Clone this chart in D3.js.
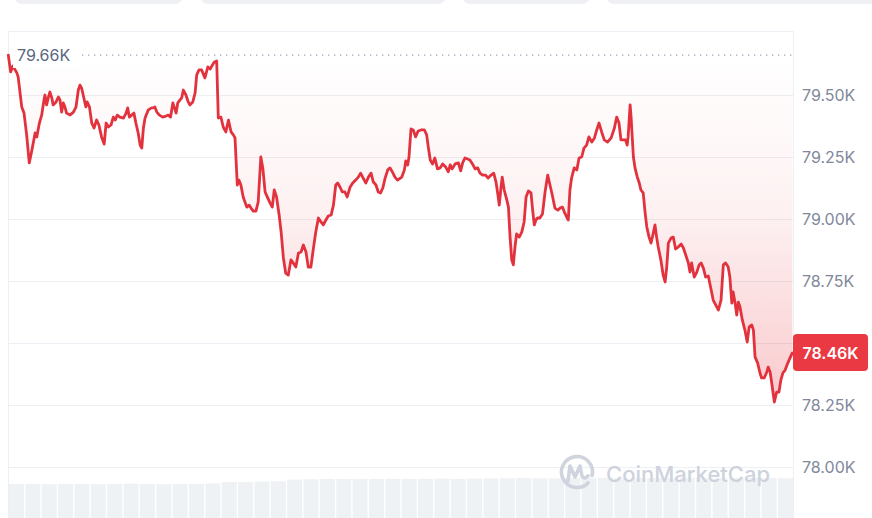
<!DOCTYPE html>
<html><head><meta charset="utf-8">
<script src="https://cdn.jsdelivr.net/npm/d3@7/dist/d3.min.js"></script>
<style>html,body{margin:0;padding:0;background:#fff;}svg{display:block;font-family:Inter,"Noto Sans",sans-serif;}</style>
</head><body><svg id="chart" width="872" height="518"></svg>
<script>
// time of day in hours (24h window)
const times = [
0.01,0.08,0.15,0.27,0.31,0.42,0.49,0.57,0.65,0.72,0.83,0.88,0.96,1.03,1.10,1.13,1.18,1.23,1.28,1.34,1.38,1.47,1.54,1.59,1.64,1.69,1.74,1.79,1.90,2.00,2.08,2.15,2.20,2.25,2.32,2.38,2.42,2.49,2.56,2.63,2.71,2.78,2.86,2.94,3.00,3.07,3.15,3.22,3.28,3.34,3.42,3.53,3.61,3.66,3.71,3.78,3.85,3.91,3.98,4.04,4.09,4.14,4.19,4.29,4.39,4.44,4.49,4.55,4.63,4.73,4.83,4.90,4.97,5.04,5.08,5.14,5.19,5.26,5.31,5.36,5.44,5.51,5.56,5.65,
5.72,5.77,5.84,5.92,6.02,6.11,6.18,6.25,6.31,6.38,6.43,6.51,6.58,6.66,6.74,6.82,6.89,6.94,7.01,7.06,7.12,7.19,7.30,7.37,7.43,7.50,7.58,7.65,7.73,7.79,7.86,7.94,8.01,8.08,8.14,8.21,8.29,8.35,8.42,8.49,8.57,8.65,8.72,8.80,8.88,8.96,9.03,9.11,9.18,9.26,9.33,9.41,9.49,9.57,9.64,9.72,9.79,9.88,9.95,10.02,10.08,10.15,10.22,10.30,10.37,10.46,10.54,10.63,10.71,10.78,10.86,10.94,11.02,11.10,11.17,11.25,11.32,11.39,11.46,11.53,11.61,11.68,11.75,11.83,11.91,
12.04,12.12,12.16,12.22,12.26,12.32,12.39,12.46,12.54,12.63,12.73,12.80,12.85,12.91,12.98,13.05,13.13,13.21,13.29,13.38,13.46,13.52,13.58,13.67,13.77,13.84,13.90,13.97,14.05,14.12,14.20,14.28,14.36,14.43,14.51,14.60,14.68,14.77,14.85,14.92,14.97,15.02,15.07,15.11,15.17,15.25,15.30,15.35,15.40,15.45,15.50,15.55,15.63,15.71,15.78,15.84,15.91,15.99,16.04,16.09,16.14,16.19,16.26,16.34,16.42,16.50,16.57,16.64,16.72,16.81,16.88,16.95,17.01,17.08,17.13,17.18,17.23,17.31,17.39,17.46,17.54,17.61,17.69,17.76,17.85,17.93,18.00,18.07,
18.15,18.23,18.33,18.44,18.54,18.61,18.68,18.74,18.82,18.88,18.93,18.96,19.02,19.05,19.09,19.12,19.17,19.24,19.30,19.35,19.42,19.48,19.53,19.60,19.66,19.73,19.78,19.83,19.88,19.96,20.03,20.09,20.14,20.19,20.27,20.34,20.41,20.49,20.58,20.65,20.72,20.80,20.85,20.90,20.98,21.06,21.13,21.19,21.26,21.33,21.41,21.48,21.56,21.64,21.72,21.80,21.87,21.94,22.02,22.07,22.13,22.17,22.23,22.28,22.33,22.38,22.45,22.53,22.60,22.66,22.74,22.79,22.84,22.92,22.99,23.04,23.12,23.20,23.24,23.30,23.35,23.43,23.50,23.57,23.63,23.69,23.76,23.84,23.91,23.98
];
// BTC price in USD
const prices = [
79661,79593,79617,79589,79573,79452,79427,79339,79226,79270,79347,79331,79387,79419,79480,79500,79460,79488,79512,79488,79460,79472,79492,79480,79431,79468,79452,79427,79419,79431,79452,79520,79540,79528,79488,79452,79472,79452,79387,79367,79399,79379,79331,79302,79387,79371,79379,79411,79399,79419,79411,79407,79427,79448,79411,79419,79427,79387,79347,79298,79286,79367,79407,79440,79448,79448,79452,79431,79419,79411,79415,79419,79411,79468,79452,79427,79468,79480,79488,79520,79500,79472,79460,79472,
79508,79581,79601,79601,79569,79613,79605,79621,79633,79637,79407,79411,79371,79351,79399,79351,79339,79327,79137,79157,79137,79089,79048,79056,79044,79032,79032,79069,79250,79206,79109,79085,79065,79048,79117,79089,79016,78948,78843,78782,78774,78835,78823,78806,78863,78867,78895,78867,78806,78806,78875,78948,79004,78988,78976,78996,79012,79016,79056,79137,79145,79129,79109,79109,79089,79129,79145,79157,79169,79185,79165,79145,79169,79185,79149,79137,79109,79105,79125,79165,79198,79206,79190,79169,79157,
79169,79198,79234,79218,79250,79363,79359,79331,79355,79359,79359,79339,79290,79238,79222,79246,79202,79206,79222,79210,79190,79218,79202,79222,79226,79194,79226,79246,79242,79238,79222,79202,79206,79185,79177,79177,79165,79177,79185,79149,79105,79056,79125,79169,79117,79077,79048,78927,78835,78815,78887,78940,78927,78948,78988,79089,79113,79105,79036,78976,78996,79004,79004,79020,79109,79177,79137,79097,79044,79036,79044,79048,79028,79008,78996,79117,79165,79206,79198,79246,79250,79286,79298,79331,79310,79327,79359,79387,
79351,79319,79310,79327,79367,79411,79387,79319,79319,79319,79298,79331,79460,79411,79319,79250,79206,79169,79145,79117,79105,79024,78968,78927,78903,78944,78976,78927,78887,78835,78774,78746,78806,78903,78923,78927,78879,78887,78899,78883,78855,78823,78786,78823,78766,78786,78815,78823,78802,78766,78770,78726,78673,78653,78633,78673,78815,78823,78806,78766,78661,78706,78661,78613,78665,78645,78593,78552,78504,78565,78573,78552,78444,78419,78379,78359,78359,78383,78403,78383,78339,78262,78302,78302,78351,78379,78391,78419,78440,78460
];
const openPrice = 79661;
const lastPrice = 78460;
const yTickValues = [78000, 78250, 78500, 78750, 79000, 79250, 79500];
// volume, billions USD, per half hour
const volumes = [27.0,27.1,26.9,27.0,27.1,26.9,27.0,27.2,27.0,26.9,27.0,27.1,27.3,28.0,28.1,28.2,28.4,29.2,29.4,29.5,29.5,29.6,29.5,29.6,29.5,29.6,29.7,29.6,29.7,29.8,29.9,30.0,29.9,29.8,30.0,30.0,30.1,29.9,30.0,30.0,29.9,30.1,30.0,29.9,30.0,30.1,30.0,29.9];

if (times.length !== prices.length) throw new Error("length mismatch " + times.length + " vs " + prices.length);

const data = times.map((t, i) => ({t, p: prices[i]}));
const svg = d3.select("#chart");
const L = 8, R = 793, TOP = 31;

const x = d3.scaleLinear().domain([0, 24]).range([L, R]);
const y = d3.scaleLinear().domain([78000, 79500]).range([467, 95]);
const fmt = v => d3.format(".2f")(v / 1000) + "K";

// top tab stubs
const tabs = [[14, 183], [200, 446], [462, 590], [606, 880]];
svg.selectAll("rect.tab").data(tabs).join("rect").attr("class", "tab")
  .attr("x", d => d[0]).attr("y", -20).attr("width", d => d[1] - d[0]).attr("height", 24)
  .attr("rx", 8).attr("fill", "#eef0f3");

// plot frame
svg.append("path").attr("d", `M${L + 0.5},518 V${TOP + 0.5} H${R + 0.5} V518`)
  .attr("fill", "none").attr("stroke", "#eceff3").attr("stroke-width", 1);

// gridlines
svg.append("g").selectAll("line").data(yTickValues).join("line")
  .attr("x1", L).attr("x2", R)
  .attr("y1", d => Math.round(y(d)) + 0.5).attr("y2", d => Math.round(y(d)) + 0.5)
  .attr("stroke", "#eceff3").attr("stroke-width", 1);

// volume bars
const xb = d3.scaleBand().domain(d3.range(volumes.length)).range([L + 1, R]).paddingInner(0.08);
const hv = d3.scaleLinear().domain([0, 30]).range([0, 60]);
svg.append("g").selectAll("rect").data(volumes).join("rect")
  .attr("x", (d, i) => xb(i)).attr("width", xb.bandwidth())
  .attr("y", d => 538 - hv(d)).attr("height", d => hv(d))
  .attr("fill", "#eff2f5");

// gradient fill between line and open price
const defs = svg.append("defs");
const grad = defs.append("linearGradient").attr("id", "g1")
  .attr("gradientUnits", "userSpaceOnUse")
  .attr("x1", 0).attr("x2", 0).attr("y1", y(openPrice)).attr("y2", y(78250));
grad.append("stop").attr("offset", "0%").attr("stop-color", "#ea3943").attr("stop-opacity", 0);
grad.append("stop").attr("offset", "45%").attr("stop-color", "#ea3943").attr("stop-opacity", 0.07);
grad.append("stop").attr("offset", "100%").attr("stop-color", "#ea3943").attr("stop-opacity", 0.27);

svg.append("path").datum(data)
  .attr("d", d3.area().x(d => x(d.t)).y0(y(openPrice)).y1(d => y(d.p)))
  .attr("fill", "url(#g1)");

// open price dotted line
svg.append("line").attr("x1", 82).attr("x2", R).attr("y1", y(openPrice)).attr("y2", y(openPrice))
  .attr("stroke", "#9aa3b5").attr("stroke-width", 1.3).attr("stroke-dasharray", "1.3,4.7");

// price line
svg.append("path").datum(data)
  .attr("d", d3.line().x(d => x(d.t)).y(d => y(d.p)))
  .attr("fill", "none").attr("stroke", "#e2323e").attr("stroke-width", 2.8)
  .attr("stroke-linejoin", "round").attr("stroke-linecap", "round");

// open price label
svg.append("rect").attr("x", 13).attr("y", 45).attr("width", 66).attr("height", 23).attr("fill", "#fff");
svg.append("text").attr("x", 17).attr("y", y(openPrice)).attr("dy", "0.36em")
  .attr("font-size", 16).attr("fill", "#58667e").text(fmt(openPrice));

// badge geometry (the tick label it covers is not shown)
const badgeTop = y(lastPrice) - 19, badgeBottom = y(lastPrice) + 18;

// right axis labels
svg.append("g").selectAll("text")
  .data(yTickValues.filter(d => y(d) < badgeTop - 6 || y(d) > badgeBottom + 6))
  .join("text")
  .attr("x", 802).attr("y", d => y(d)).attr("dy", "0.36em")
  .attr("font-size", 16).attr("fill", "#7f889a").text(fmt);

// last price badge
svg.append("rect").attr("x", 793).attr("y", badgeTop).attr("width", 75).attr("height", badgeBottom - badgeTop)
  .attr("rx", 4).attr("fill", "#ea3943");
svg.append("text").attr("x", 830.5).attr("y", y(lastPrice)).attr("dy", "0.36em")
  .attr("text-anchor", "middle").attr("font-size", 16).attr("font-weight", 600)
  .attr("fill", "#fff").text(fmt(lastPrice));

// watermark
const wm = svg.append("g").attr("fill", "none").attr("stroke", "#cfd4de").attr("stroke-width", 3.6)
  .attr("stroke-linecap", "round").attr("stroke-linejoin", "round");
wm.append("path").attr("d", d3.arc()({innerRadius: 15.5, outerRadius: 15.5, startAngle: 2.35, endAngle: 2.35 + 2 * Math.PI - 0.55}))
  .attr("transform", "translate(577,472)");
wm.append("path").attr("d", "M568,481 L570,466 L575,477 L580,466 L582,476 Q584,480 588,476");
svg.append("text").attr("x", 606).attr("y", 482).attr("font-size", 22).attr("font-weight", 500)
  .attr("fill", "#cdd2dd").text("CoinMarketCap");
</script></body></html>
